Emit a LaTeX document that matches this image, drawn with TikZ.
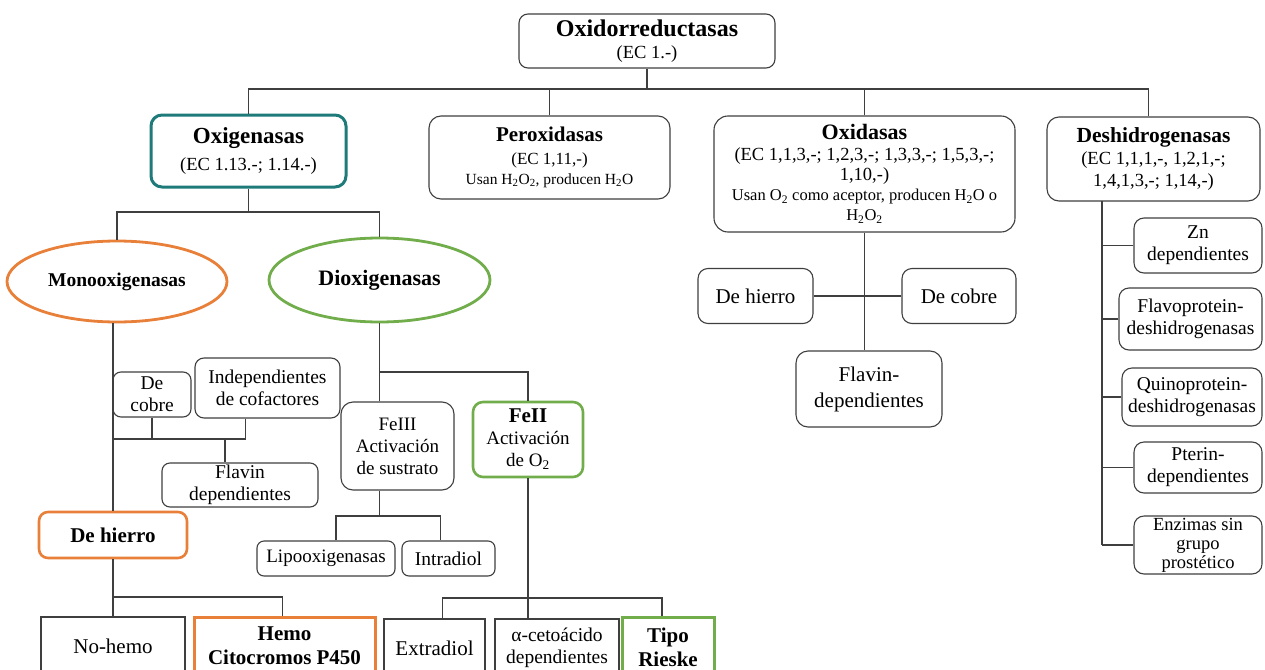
\documentclass[tikz,border=0pt]{standalone}
\usepackage{fontspec}
\setmainfont{Liberation Serif}
\usetikzlibrary{shapes.geometric}
\definecolor{tealc}{HTML}{1F7A7A}
\definecolor{orng}{HTML}{E8803A}
\definecolor{grn}{HTML}{72AD4C}
\definecolor{ln}{HTML}{3F3F3F}
\newcommand{\fsz}[2]{\fontsize{#1}{#2}\selectfont}
\begin{document}
\begin{tikzpicture}[x=1pt,y=-1pt,
  sz/.style 2 args={minimum width=#1pt, minimum height=#2pt},
  box/.style={draw=ln, line width=1.1pt, rounded corners=9pt, align=center, inner sep=0pt, fill=white, text=black, font=\fsz{19.5}{22}},
  sqbox/.style={box, rounded corners=0pt},
  obox/.style={box, draw=orng, line width=2.6pt},
  gbox/.style={box, draw=grn, line width=2.6pt},
  ell/.style={ellipse, line width=2.8pt, inner sep=0pt, fill=white, align=center},
  conn/.style={draw=ln, line width=1.1pt},
]
\useasboundingbox (0,0) rectangle (1265,669);
\clip (0,0) rectangle (1265,669);

% level 0 and 1
\node[box, sz={256}{54}, font=\fsz{18.5}{22}] (root) at (647,41)
  {{\bfseries\fsz{24}{26}Oxidorreductasas}\\(EC 1.-)};
\node[box, draw=tealc, line width=3pt, rounded corners=11pt, sz={195}{72}, font=\fsz{18.5}{27}] (oxi) at (248.5,151)
  {{\bfseries\fsz{23}{26}Oxigenasas}\\(EC 1.13.-; 1.14.-)};
\node[box, rounded corners=12pt, sz={241}{83}, font=\fsz{17}{20}] (perox) at (549.5,157.5)
  {{\bfseries\fsz{21}{24}Peroxidasas}\\[3pt](EC 1,11,-)\\{\fsz{15.5}{18}Usan H\textsubscript{2}O\textsubscript{2}, producen H\textsubscript{2}O}};
\node[box, rounded corners=14pt, sz={301}{116}, font=\fsz{18.5}{20}] (oxid) at (864.5,174)
  {{\bfseries\fsz{22}{24}Oxidasas}\\[1pt](EC 1,1,3,-; 1,2,3,-; 1,3,3,-; 1,5,3,-;\\1,10,-)\\{\fsz{16.5}{19}Usan O\textsubscript{2} como aceptor, producen H\textsubscript{2}O o}\\{\fsz{16.5}{19}H\textsubscript{2}O\textsubscript{2}}};
\node[box, rounded corners=12pt, sz={213}{84}, font=\fsz{18.5}{22}] (deshi) at (1153.5,159)
  {{\bfseries\fsz{21.5}{25}Deshidrogenasas}\\(EC 1,1,1,-, 1,2,1,-;\\1,4,1,3,-; 1,14,-)};

% oxigenasas branch
\node[ell, draw=orng, sz={220}{81}] (mono) at (117,281.5) {\bfseries\fsz{19.5}{22}Monooxigenasas};
\node[ell, draw=grn, sz={221}{84}] (diox) at (379.5,280) {\bfseries\fsz{22}{24}Dioxigenasas};

\node[box, rounded corners=8pt, sz={78}{45}] (cobre1) at (152,394.5) {De\\cobre};
\node[box, rounded corners=9pt, sz={145}{60}] (indep) at (267.5,388) {Independientes\\de cofactores};
\node[box, rounded corners=8pt, sz={156}{44}] (flav1) at (240,485) {Flavin\\dependientes};
\node[obox, sz={148}{46}] (dh1) at (113,535) {\bfseries\fsz{21}{24}De hierro};
\node[sqbox, sz={144}{58}] (nohemo) at (113,646) {\fsz{21}{24}No-hemo};
\node[sqbox, draw=orng, line width=3pt, sz={181}{58}, font=\bfseries\fsz{21}{24}] (hemo) at (284.5,646) {Hemo\\Citocromos P450};

\node[box, rounded corners=12pt, sz={113}{88}, font=\fsz{19}{22}] (fe3) at (397.5,446) {FeIII\\Activación\\de sustrato};
\node[gbox, rounded corners=10pt, sz={110}{75}, font=\fsz{19}{22}] (fe2) at (528,439.5) {{\bfseries\fsz{21}{24}FeII}\\Activación\\de O\textsubscript{2}};
\node[box, rounded corners=7pt, sz={138}{35}, font=\fsz{19}{22}] (lipo) at (326,558.5) {Lipooxigenasas};
\node[box, rounded corners=7pt, sz={93}{35}] (intra) at (448.5,558.5) {Intradiol};
\node[sqbox, sz={101}{58}] (extra) at (434.5,648) {\fsz{21}{24}Extradiol};
\node[sqbox, sz={124}{58}] (alpha) at (557,648) {α-cetoácido\\dependientes};
\node[sqbox, draw=grn, line width=3pt, sz={92}{60}, font=\bfseries\fsz{21}{24}] (rieske) at (668,647) {Tipo\\Rieske};

% oxidasas branch
\node[box, rounded corners=10pt, sz={115}{55}, font=\fsz{21}{24}] (dh2) at (755.5,296) {De hierro};
\node[box, rounded corners=10pt, sz={114}{55}, font=\fsz{21}{24}] (dc2) at (959,296) {De cobre};
\node[box, rounded corners=12pt, sz={146}{76}, font=\fsz{21}{26}] (flav2) at (869,389) {Flavin-\\dependientes};

% deshidrogenasas branch
\node[box, rounded corners=10pt, sz={128}{55}] (zn) at (1198,245.5) {Zn\\dependientes};
\node[box, rounded corners=10pt, sz={143}{62}] (flavo) at (1190.5,319) {Flavoprotein-\\deshidrogenasas};
\node[box, rounded corners=10pt, sz={140}{58}] (quino) at (1192,397) {Quinoprotein-\\deshidrogenasas};
\node[box, rounded corners=10pt, sz={128}{51}] (pterin) at (1198,467.5) {Pterin-\\dependientes};
\node[box, rounded corners=10pt, sz={128}{58}, font=\fsz{18.5}{19}] (enz) at (1198,545) {Enzimas sin\\grupo\\prostético};

% connectors: top level
\coordinate (tb) at (647,89);
\draw[conn] (root.south) -- (tb);
\draw[conn] (oxi.north) |- (tb);
\draw[conn] (perox.north) |- (tb);
\draw[conn] (oxid.north) |- (tb);
\draw[conn] ([xshift=-5pt]deshi.north) |- (tb);

% oxigenasas
\coordinate (ob) at (248.5,212);
\draw[conn] (oxi.south) -- (ob);
\draw[conn] (mono.north) |- (ob);
\draw[conn] (diox.north) |- (ob);

% monooxigenasas
\coordinate (mb) at (113,439);
\draw[conn] (dh1.north) -- (dh1.north |- mono.south);
\draw[conn] (cobre1.south) |- (mb);
\draw[conn] ([xshift=-22pt]indep.south) |- (mb);
\draw[conn] ([xshift=-15pt]flav1.north) |- (mb);
\coordinate (hb) at (113,597);
\draw[conn] (dh1.south) -- (hb);
\draw[conn] (nohemo.north) -- (hb);
\draw[conn] ([xshift=-2pt]hemo.north) |- (hb);

% dioxigenasas
\coordinate (db) at (379.5,372);
\draw[conn] (diox.south) -- (db);
\draw[conn] (fe3.north -| db) -- (db);
\draw[conn] (fe2.north) |- (db);
\coordinate (fb) at (379.5,516);
\draw[conn] (fe3.south -| fb) -- (fb);
\draw[conn] ([xshift=10pt]lipo.north) |- (fb);
\draw[conn] ([xshift=-8pt]intra.north) |- (fb);
\coordinate (eb) at (528,598);
\draw[conn] (fe2.south) -- (fe2.south |- alpha.north);
\draw[conn] ([xshift=8pt]extra.north) |- (eb);
\draw[conn] ([xshift=-6pt]rieske.north) |- (eb);

% oxidasas
\draw[conn] (oxid.south) -- (oxid.south |- flav2.north);
\draw[conn] (dh2.east) -- (dc2.west);

% deshidrogenasas
\coordinate (dl) at (1102,201);
\draw[conn] (dl) -- (dl |- enz.west);
\draw[conn] (zn.west) -- (zn.west -| dl);
\draw[conn] (flavo.west) -- (flavo.west -| dl);
\draw[conn] (quino.west) -- (quino.west -| dl);
\draw[conn] (pterin.west) -- (pterin.west -| dl);
\draw[conn] (enz.west) -- (enz.west -| dl);
\end{tikzpicture}
\end{document}
